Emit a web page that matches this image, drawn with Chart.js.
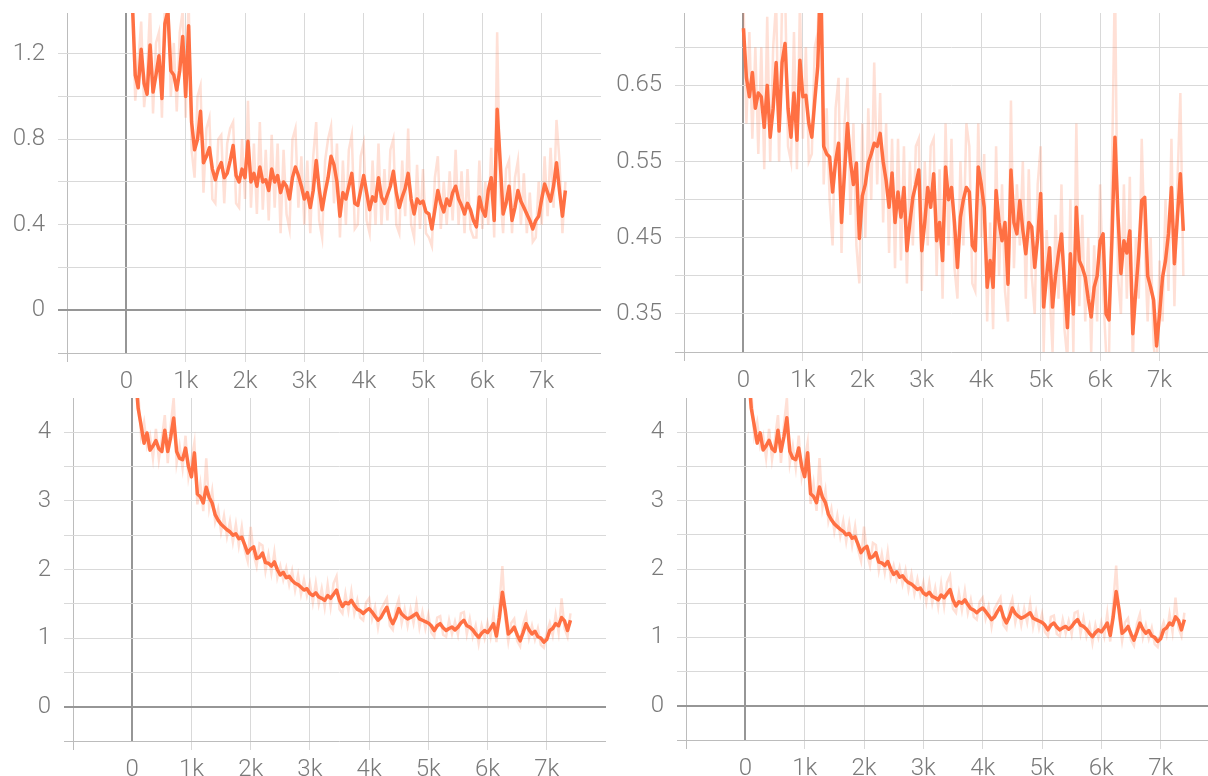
<!DOCTYPE html>
<html>
<head>
<meta charset="utf-8">
<script src="https://cdn.jsdelivr.net/npm/chart.js@4.4.1/dist/chart.umd.min.js"></script>
<style>
  html, body { margin: 0; padding: 0; background: #fff; overflow: hidden; width: 1208px; height: 776px; }
  canvas { position: absolute; }
</style>
</head>
<body>
<canvas id="lossA" width="612" height="392" style="left:0;top:0"></canvas>
<canvas id="lossB" width="620" height="392" style="left:612px;top:0"></canvas>
<canvas id="lossC" width="612" height="384" style="left:0;top:392px"></canvas>
<canvas id="lossD" width="620" height="384" style="left:612px;top:392px"></canvas>
<script>
// training steps shared by every panel
const steps = [
  0, 50, 100, 150, 200, 250, 300, 350, 400, 450,
  500, 550, 600, 650, 700, 750, 800, 850, 900, 950,
  1000, 1050, 1100, 1150, 1200, 1250, 1300, 1350, 1400, 1450,
  1500, 1550, 1600, 1650, 1700, 1750, 1800, 1850, 1900, 1950,
  2000, 2050, 2100, 2150, 2200, 2250, 2300, 2350, 2400, 2450,
  2500, 2550, 2600, 2650, 2700, 2750, 2800, 2850, 2900, 2950,
  3000, 3050, 3100, 3150, 3200, 3250, 3300, 3350, 3400, 3450,
  3500, 3550, 3600, 3650, 3700, 3750, 3800, 3850, 3900, 3950,
  4000, 4050, 4100, 4150, 4200, 4250, 4300, 4350, 4400, 4450,
  4500, 4550, 4600, 4650, 4700, 4750, 4800, 4850, 4900, 4950,
  5000, 5050, 5100, 5150, 5200, 5250, 5300, 5350, 5400, 5450,
  5500, 5550, 5600, 5650, 5700, 5750, 5800, 5850, 5900, 5950,
  6000, 6050, 6100, 6150, 6200, 6250, 6300, 6350, 6400, 6450,
  6500, 6550, 6600, 6650, 6700, 6750, 6800, 6850, 6900, 6950,
  7000, 7050, 7100, 7150, 7200, 7250, 7300, 7350, 7400
];

// top-left panel
const lossASmooth = [
  2.0, 1.7, 1.45, 1.10, 1.04, 1.22, 1.06, 1.01, 1.24, 1.02,
  1.10, 1.19, 0.99, 1.34, 1.40, 1.12, 1.10, 1.03, 1.12, 1.28,
  1.00, 1.33, 0.88, 0.75, 0.80, 0.93, 0.69, 0.72, 0.76, 0.66,
  0.61, 0.66, 0.69, 0.62, 0.64, 0.70, 0.77, 0.63, 0.60, 0.66,
  0.62, 0.79, 0.60, 0.64, 0.58, 0.67, 0.60, 0.61, 0.56, 0.66,
  0.60, 0.63, 0.55, 0.60, 0.58, 0.52, 0.62, 0.67, 0.63, 0.58,
  0.52, 0.55, 0.48, 0.56, 0.70, 0.57, 0.47, 0.55, 0.62, 0.72,
  0.68, 0.60, 0.44, 0.55, 0.52, 0.58, 0.64, 0.50, 0.49, 0.56,
  0.63, 0.55, 0.47, 0.53, 0.51, 0.62, 0.53, 0.50, 0.54, 0.58,
  0.65, 0.55, 0.48, 0.53, 0.57, 0.64, 0.52, 0.45, 0.52, 0.50,
  0.51, 0.46, 0.45, 0.38, 0.47, 0.56, 0.50, 0.46, 0.52, 0.49,
  0.55, 0.58, 0.52, 0.49, 0.45, 0.50, 0.47, 0.42, 0.39, 0.53,
  0.47, 0.44, 0.56, 0.62, 0.42, 0.94, 0.70, 0.45, 0.50, 0.58,
  0.42, 0.48, 0.56, 0.51, 0.48, 0.45, 0.42, 0.38, 0.42, 0.44,
  0.52, 0.59, 0.55, 0.51, 0.58, 0.69, 0.56, 0.44, 0.56
];
const lossARaw = [
  2.2, 1.8, 1.5, 0.98, 1.15, 1.35, 0.95, 1.10, 1.42, 0.92,
  1.25, 1.30, 0.90, 1.45, 1.50, 1.00, 1.25, 0.93, 1.30, 1.40,
  0.90, 1.45, 0.75, 0.62, 1.00, 1.05, 0.55, 0.85, 0.90, 0.52,
  0.50, 0.80, 0.82, 0.50, 0.78, 0.85, 0.88, 0.50, 0.48, 0.80,
  0.52, 0.98, 0.48, 0.78, 0.45, 0.88, 0.47, 0.75, 0.42, 0.82,
  0.48, 0.78, 0.36, 0.75, 0.45, 0.38, 0.80, 0.85, 0.48, 0.72,
  0.40, 0.70, 0.36, 0.72, 0.88, 0.42, 0.34, 0.70, 0.80, 0.86,
  0.50, 0.78, 0.34, 0.70, 0.40, 0.75, 0.82, 0.38, 0.40, 0.72,
  0.78, 0.42, 0.36, 0.70, 0.40, 0.78, 0.40, 0.66, 0.42, 0.75,
  0.80, 0.40, 0.36, 0.70, 0.44, 0.85, 0.40, 0.34, 0.68, 0.38,
  0.66, 0.36, 0.34, 0.30, 0.62, 0.72, 0.38, 0.60, 0.40, 0.65,
  0.42, 0.75, 0.40, 0.65, 0.36, 0.66, 0.38, 0.34, 0.34, 0.70,
  0.38, 0.60, 0.40, 0.76, 0.34, 1.30, 0.55, 0.36, 0.66, 0.70,
  0.36, 0.62, 0.70, 0.40, 0.64, 0.36, 0.55, 0.32, 0.34, 0.60,
  0.40, 0.72, 0.44, 0.76, 0.48, 0.89, 0.70, 0.36, 0.60
];

// top-right panel
const lossBSmooth = [
  0.725, 0.66, 0.635, 0.667, 0.62, 0.64, 0.635, 0.595, 0.65, 0.582,
  0.62, 0.68, 0.59, 0.68, 0.705, 0.62, 0.582, 0.64, 0.578, 0.683,
  0.635, 0.637, 0.60, 0.582, 0.63, 0.675, 0.80, 0.57, 0.56, 0.556,
  0.51, 0.55, 0.574, 0.47, 0.535, 0.60, 0.55, 0.52, 0.548, 0.449,
  0.505, 0.52, 0.548, 0.56, 0.574, 0.57, 0.587, 0.55, 0.525, 0.49,
  0.535, 0.47, 0.51, 0.477, 0.516, 0.433, 0.47, 0.503, 0.52, 0.539,
  0.433, 0.47, 0.516, 0.49, 0.534, 0.446, 0.47, 0.42, 0.543, 0.50,
  0.516, 0.47, 0.411, 0.477, 0.50, 0.516, 0.51, 0.44, 0.433, 0.543,
  0.52, 0.49, 0.385, 0.42, 0.385, 0.512, 0.47, 0.446, 0.47, 0.389,
  0.539, 0.47, 0.455, 0.499, 0.46, 0.429, 0.47, 0.464, 0.411, 0.45,
  0.508, 0.359, 0.40, 0.437, 0.359, 0.40, 0.429, 0.455, 0.39, 0.332,
  0.429, 0.35, 0.49, 0.42, 0.411, 0.398, 0.37, 0.346, 0.385, 0.40,
  0.446, 0.455, 0.35, 0.342, 0.45, 0.582, 0.48, 0.403, 0.446, 0.43,
  0.459, 0.324, 0.38, 0.429, 0.499, 0.503, 0.40, 0.385, 0.368, 0.308,
  0.35, 0.398, 0.42, 0.455, 0.516, 0.416, 0.477, 0.534, 0.459
];
const lossBRaw = [
  0.76, 0.60, 0.72, 0.58, 0.70, 0.56, 0.70, 0.54, 0.74, 0.55,
  0.70, 0.76, 0.55, 0.76, 0.78, 0.57, 0.55, 0.72, 0.54, 0.76,
  0.58, 0.70, 0.55, 0.56, 0.70, 0.72, 0.85, 0.52, 0.62, 0.50,
  0.44, 0.62, 0.66, 0.43, 0.60, 0.66, 0.48, 0.60, 0.44, 0.39,
  0.60, 0.45, 0.62, 0.50, 0.68, 0.52, 0.64, 0.47, 0.60, 0.43,
  0.58, 0.41, 0.58, 0.42, 0.57, 0.39, 0.55, 0.44, 0.57, 0.58,
  0.38, 0.55, 0.44, 0.57, 0.58, 0.40, 0.54, 0.37, 0.60, 0.44,
  0.58, 0.41, 0.37, 0.55, 0.44, 0.60, 0.57, 0.39, 0.38, 0.60,
  0.45, 0.56, 0.34, 0.47, 0.33, 0.57, 0.40, 0.52, 0.38, 0.34,
  0.63, 0.41, 0.52, 0.44, 0.55, 0.37, 0.54, 0.40, 0.35, 0.52,
  0.57, 0.30, 0.46, 0.38, 0.30, 0.48, 0.37, 0.52, 0.33, 0.29,
  0.50, 0.30, 0.60, 0.36, 0.48, 0.34, 0.45, 0.30, 0.44, 0.34,
  0.52, 0.38, 0.30, 0.29, 0.54, 0.80, 0.40, 0.35, 0.52, 0.37,
  0.53, 0.28, 0.45, 0.37, 0.58, 0.44, 0.34, 0.45, 0.31, 0.27,
  0.42, 0.34, 0.50, 0.38, 0.58, 0.36, 0.52, 0.64, 0.40
];

// bottom row (both panels show the same run)
const lossCSmooth = [
  5.6, 4.9, 4.35, 4.10, 3.84, 3.99, 3.74, 3.80, 3.88, 3.76,
  3.72, 4.03, 3.72, 3.93, 4.21, 3.72, 3.62, 3.60, 3.77, 3.50,
  3.35, 3.70, 3.10, 3.06, 2.97, 3.20, 3.05, 2.97, 2.80, 2.72,
  2.66, 2.62, 2.58, 2.55, 2.50, 2.52, 2.45, 2.47, 2.36, 2.24,
  2.30, 2.33, 2.16, 2.18, 2.24, 2.10, 2.09, 2.05, 2.11, 2.00,
  1.92, 1.96, 1.88, 1.90, 1.84, 1.80, 1.78, 1.74, 1.70, 1.72,
  1.65, 1.62, 1.66, 1.60, 1.58, 1.55, 1.62, 1.58, 1.64, 1.70,
  1.55, 1.46, 1.52, 1.50, 1.55, 1.48, 1.42, 1.40, 1.36, 1.40,
  1.43, 1.38, 1.32, 1.26, 1.30, 1.38, 1.45, 1.30, 1.21, 1.30,
  1.43, 1.35, 1.31, 1.28, 1.30, 1.33, 1.36, 1.28, 1.26, 1.24,
  1.22, 1.18, 1.11, 1.18, 1.21, 1.15, 1.11, 1.14, 1.16, 1.12,
  1.16, 1.22, 1.26, 1.18, 1.16, 1.12, 1.06, 1.01, 1.07, 1.11,
  1.08, 1.14, 1.21, 1.03, 1.30, 1.67, 1.40, 1.06, 1.10, 1.16,
  1.05, 0.96, 1.08, 1.21, 1.12, 1.06, 1.10, 1.02, 1.00, 0.94,
  0.98, 1.11, 1.14, 1.21, 1.18, 1.30, 1.25, 1.11, 1.26
];
const lossCRaw = [
  6.0, 5.2, 4.6, 3.95, 4.15, 3.80, 3.95, 3.62, 4.05, 3.60,
  3.90, 4.25, 3.55, 4.10, 4.50, 3.55, 3.80, 3.48, 3.95, 3.35,
  3.60, 3.85, 2.95, 3.25, 2.85, 3.62, 2.90, 3.15, 2.70, 2.88,
  2.55, 2.78, 2.48, 2.70, 2.40, 2.66, 2.35, 2.62, 2.28, 2.12,
  2.62, 2.22, 2.05, 2.38, 2.35, 1.98, 2.22, 1.95, 2.25, 1.88,
  2.05, 1.85, 2.02, 1.78, 1.98, 1.70, 1.92, 1.64, 1.85, 1.62,
  1.80, 1.52, 1.80, 1.50, 1.72, 1.45, 1.78, 1.46, 1.80, 1.90,
  1.42, 1.36, 1.65, 1.40, 1.68, 1.36, 1.55, 1.30, 1.26, 1.52,
  1.58, 1.28, 1.45, 1.16, 1.42, 1.50, 1.58, 1.18, 1.12, 1.42,
  1.56, 1.22, 1.42, 1.18, 1.42, 1.22, 1.50, 1.16, 1.38, 1.14,
  1.34, 1.08, 1.02, 1.30, 1.32, 1.05, 1.02, 1.26, 1.06, 1.24,
  1.05, 1.36, 1.38, 1.06, 1.28, 1.02, 1.18, 0.92, 1.18, 1.00,
  1.22, 1.02, 1.35, 0.94, 1.50, 2.05, 1.28, 0.95, 1.22, 1.28,
  0.96, 0.88, 1.20, 1.34, 1.00, 1.18, 0.98, 1.14, 0.90, 0.86,
  1.08, 1.22, 1.04, 1.34, 1.08, 1.58, 1.14, 1.02, 1.36
];

// axis ticks
const xTicks = [-1000, 0, 1000, 2000, 3000, 4000, 5000, 6000, 7000];
const xLabels = ['', '0', '1k', '2k', '3k', '4k', '5k', '6k', '7k'];

const lossAYTicks = [-0.2, 0, 0.2, 0.4, 0.6, 0.8, 1.0, 1.2];
const lossAYLabels = ['', '0', '', '0.4', '', '0.8', '', '1.2'];
const lossBYTicks = [0.30, 0.35, 0.40, 0.45, 0.50, 0.55, 0.60, 0.65, 0.70];
const lossBYLabels = ['', '0.35', '', '0.45', '', '0.55', '', '0.65', ''];
const lossCYTicks = [-0.5, 0, 0.5, 1, 1.5, 2, 2.5, 3, 3.5, 4];
const lossCYLabels = ['', '0', '', '1', '', '2', '', '3', '', '4'];

const ORANGE = '#ff7043';
const PINK = 'rgba(255, 112, 67, 0.22)';
const GRID = '#d9d9d9';
const EDGE = '#bcbcbc';
const ZERO = '#969696';
const LABEL = '#7a7a7a';
const FONT = { family: 'Roboto', size: 24, weight: '300' };

function toPoints(vals) {
  return vals.map((v, i) => ({ x: steps[i], y: v }));
}

function gridColor(ctx, first) {
  if (!ctx.tick) return GRID;
  if (ctx.tick.value === 0) return ZERO;
  if (ctx.tick.value === first) return EDGE;
  return GRID;
}

function drawPanel(id, p) {
  const ctx = document.getElementById(id).getContext('2d');
  return new Chart(ctx, {
    type: 'line',
    data: {
      datasets: [
        {
          data: toPoints(p.raw),
          borderColor: PINK,
          borderWidth: 2.5,
          pointRadius: 0,
          tension: 0,
          clip: 0,
        },
        {
          data: toPoints(p.smooth),
          borderColor: ORANGE,
          borderWidth: 3.5,
          borderJoinStyle: 'round',
          pointRadius: 0,
          tension: 0,
          clip: 0,
        },
      ],
    },
    options: {
      responsive: false,
      animation: false,
      devicePixelRatio: 1,
      layout: { padding: { left: 0, top: p.top, right: p.right, bottom: 0 } },
      plugins: { legend: { display: false }, tooltip: { enabled: false } },
      scales: {
        x: {
          type: 'linear',
          min: -1000,
          max: 8000,
          border: { display: false },
          grid: {
            color: c => gridColor(c, -1000),
            tickColor: c => (c.tick && c.tick.value === 0 ? 'rgba(0,0,0,0)' : gridColor(c, -1000)),
            lineWidth: c => (c.tick && c.tick.value === 0 ? 2 : 1),
            tickLength: 9,
          },
          ticks: {
            color: LABEL,
            font: FONT,
            padding: 6,
            maxRotation: 0,
            autoSkip: false,
            callback: (v, i) => xLabels[i],
          },
          afterBuildTicks: s => { s.ticks = xTicks.map(v => ({ value: v })); },
          afterFit: s => {
            s.height = p.xHeight;
            s.paddingLeft = 0;
            s.paddingRight = 0;
          },
        },
        y: {
          min: p.yMin,
          max: p.yMax,
          border: { display: false },
          grid: {
            color: c => gridColor(c, p.yTicks[0]),
            lineWidth: c => (c.tick && c.tick.value === 0 ? 2 : 1),
            tickLength: 9,
          },
          ticks: {
            color: LABEL,
            font: FONT,
            padding: 13,
            autoSkip: false,
            callback: (v, i) => p.yLabels[i],
          },
          afterBuildTicks: s => { s.ticks = p.yTicks.map(v => ({ value: v })); },
          afterFit: s => {
            s.width = p.yWidth;
            s.paddingTop = 0;
            s.paddingBottom = 0;
          },
        },
      },
    },
  });
}

drawPanel('lossA', {
  smooth: lossASmooth, raw: lossARaw,
  yMin: -0.2, yMax: 1.39, yTicks: lossAYTicks, yLabels: lossAYLabels,
  yWidth: 67, xHeight: 39, top: 13, right: 11,
});
drawPanel('lossB', {
  smooth: lossBSmooth, raw: lossBRaw,
  yMin: 0.30, yMax: 0.745, yTicks: lossBYTicks, yLabels: lossBYLabels,
  yWidth: 72, xHeight: 40, top: 13, right: 13,
});
drawPanel('lossC', {
  smooth: lossCSmooth, raw: lossCRaw,
  yMin: -0.5, yMax: 4.5, yTicks: lossCYTicks, yLabels: lossCYLabels,
  yWidth: 73, xHeight: 35, top: 6, right: 6,
});
drawPanel('lossD', {
  smooth: lossCSmooth, raw: lossCRaw,
  yMin: -0.5, yMax: 4.5, yTicks: lossCYTicks, yLabels: lossCYLabels,
  yWidth: 74, xHeight: 36, top: 6, right: 12,
});
</script>
</body>
</html>
